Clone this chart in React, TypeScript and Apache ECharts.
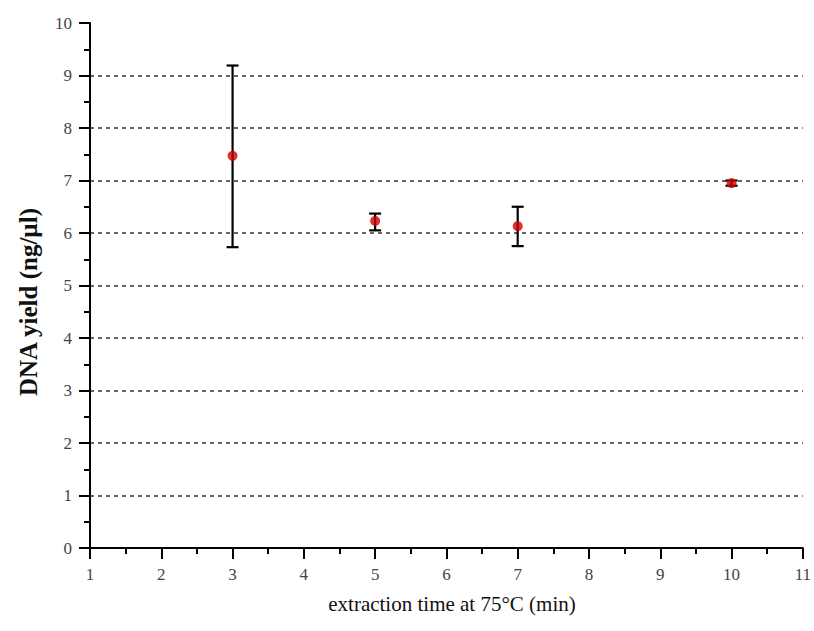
import React, { useEffect, useRef } from "react";
import * as echarts from "echarts";

const times = [3, 5, 7, 10];
const yieldMean = [7.47, 6.23, 6.13, 6.95];
const errLow = [5.73, 6.05, 5.75, 6.9];
const errHigh = [9.19, 6.37, 6.5, 7.0];
const xTitle = "extraction time at 75°C (min)";
const yTitle = "DNA yield (ng/µl)";

export default function App() {
  const ref = useRef<HTMLDivElement>(null);
  useEffect(() => {
    const chart = echarts.init(ref.current!, null, { renderer: "svg" });
    const font = "'Liberation Serif', 'DejaVu Serif', serif";
    const axisCommon = {
      axisLine: { show: true, onZero: false, lineStyle: { color: "#000", width: 2 } },
      axisTick: { show: true, inside: false, length: 11, lineStyle: { color: "#000", width: 2 } },
      minorTick: { show: true, splitNumber: 2, length: 6, lineStyle: { color: "#000", width: 2 } },
      axisLabel: { color: "#444", fontFamily: font, fontSize: 17, margin: 18 },
    };
    chart.setOption({
      animation: false,
      backgroundColor: "#fff",
      grid: { left: 90, right: 10, top: 23, bottom: 83 },
      graphic: [
        {
          type: "text",
          x: 28,
          y: 302,
          rotation: Math.PI / 2,
          style: {
            text: yTitle,
            fill: "#111",
            font: `bold 25px ${font}`,
            textAlign: "center",
            textVerticalAlign: "middle",
          },
        },
        {
          type: "text",
          x: 452,
          y: 604,
          style: {
            text: xTitle,
            fill: "#111",
            font: `21px ${font}`,
            textAlign: "center",
            textVerticalAlign: "middle",
          },
        },
      ],
      xAxis: {
        type: "value",
        min: 1,
        max: 11,
        interval: 1,
        ...axisCommon,
        splitLine: { show: false },
      },
      yAxis: {
        type: "value",
        min: 0,
        max: 10,
        interval: 1,
        ...axisCommon,
        splitLine: {
          show: true,
          showMinLine: false,
          showMaxLine: false,
          lineStyle: { color: "#333", type: [4, 4], width: 1.5 },
        },
      },
      series: [
        {
          type: "custom",
          data: times.map((t, i) => [t, errLow[i], errHigh[i]]),
          renderItem: (params: any, api: any) => {
            const x = api.value(0);
            const lo = api.coord([x, api.value(1)]);
            const hi = api.coord([x, api.value(2)]);
            const w = 6;
            const style = { stroke: "#000", lineWidth: 2.2 };
            return {
              type: "group",
              children: [
                { type: "line", shape: { x1: lo[0], y1: lo[1], x2: hi[0], y2: hi[1] }, style },
                { type: "line", shape: { x1: hi[0] - w, y1: hi[1], x2: hi[0] + w, y2: hi[1] }, style },
                { type: "line", shape: { x1: lo[0] - w, y1: lo[1], x2: lo[0] + w, y2: lo[1] }, style },
              ],
            };
          },
          z: 2,
        },
        {
          type: "scatter",
          data: times.map((t, i) => [t, yieldMean[i]]),
          symbol: "circle",
          symbolSize: 10,
          itemStyle: { color: "#d10000" },
          z: 3,
        },
      ],
    });
    return () => chart.dispose();
  }, []);
  return <div ref={ref} style={{ width: 814, height: 631, position: "absolute", left: 0, top: 0 }} />;
}
